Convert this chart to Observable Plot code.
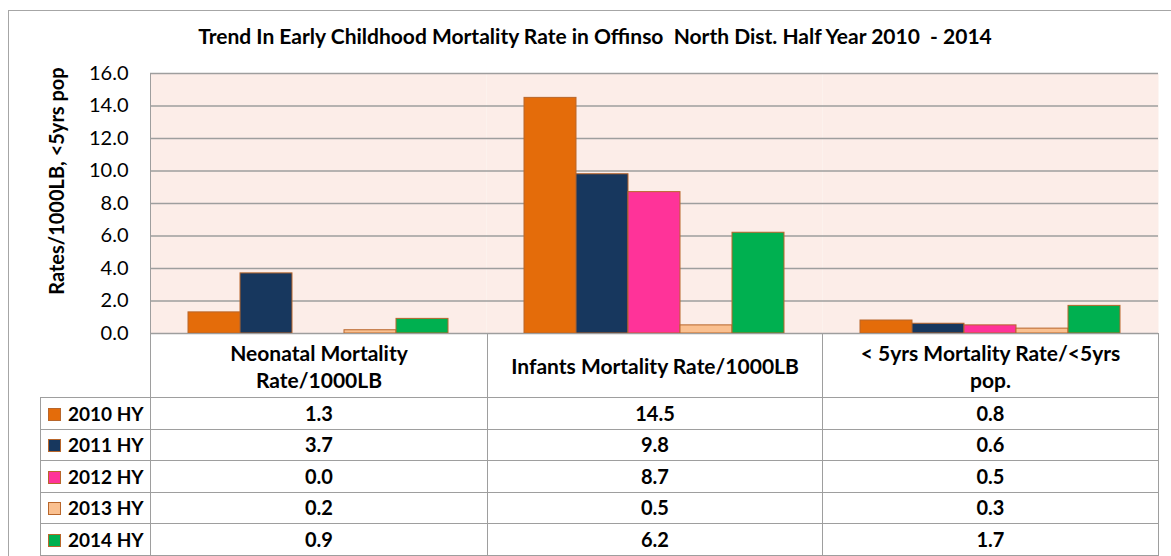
<!DOCTYPE html>
<html>
<head>
<meta charset="utf-8">
<script src="https://cdn.jsdelivr.net/npm/d3@7"></script>
<script src="https://cdn.jsdelivr.net/npm/@observablehq/plot@0.6"></script>
<style>
  html, body { margin: 0; padding: 0; background: #fff; }
  #wrap { position: relative; width: 1171px; height: 556px; overflow: hidden; background: #fff; font-family: Lato, "Open Sans", sans-serif; color: #000; }
  #frame { position: absolute; left: 8px; top: 10px; width: 1200px; height: 700px; border: 1.5px solid #a6a6a6; box-sizing: border-box; }
  #title { position: absolute; left: 0; width: 1190px; top: 24px; text-align: center; font-weight: 700; font-size: 21px; white-space: pre; line-height: 24px; }
  #ylabel { position: absolute; left: 56px; top: 181px; transform: translate(-50%, -50%) rotate(-90deg); font-weight: 700; font-size: 20px; white-space: nowrap; }
  #chart { position: absolute; left: 0; top: 60px; }
  #vline { position: absolute; left: 150px; top: 73px; height: 500px; border-left: 1.5px solid #9e9e9e; }
  #tbl { position: absolute; left: 40px; top: 333px; border-collapse: collapse; font-weight: 700; font-size: 20px; table-layout: fixed; }
  #tbl td { border: 1.5px solid #9e9e9e; text-align: center; padding: 0; line-height: 27px; }
  #tbl td.blank { border-top: none; border-left: none; }
  #tbl tr.head td { height: 63px; font-size: 21px; }
  #tbl tr.row td { height: 30.5px; }
  #tbl td.lab { text-align: left; padding-left: 7px; white-space: nowrap; font-size: 19px; }
  .sw { display: inline-block; width: 11px; height: 11px; border: 1px solid #b8662b; margin-right: 7px; vertical-align: 0px; }
</style>
</head>
<body>
<div id="wrap">
  <div id="frame"></div>
  <div id="title"></div>
  <div id="ylabel"></div>
  <div id="chart"></div>
  <div id="vline"></div>
  <table id="tbl"></table>
</div>
<script>
// ---- data ----
const title = "Trend In Early Childhood Mortality Rate in Offinso  North Dist. Half Year 2010  - 2014";
const yLabel = "Rates/1000LB, <5yrs pop";
const categories = ["Neonatal Mortality Rate/1000LB", "Infants Mortality Rate/1000LB", "< 5yrs Mortality Rate/<5yrs pop."];
const categoryLines = [["Neonatal Mortality", "Rate/1000LB"], ["Infants Mortality Rate/1000LB"], ["< 5yrs Mortality Rate/<5yrs", "pop."]];
const series = ["2010 HY", "2011 HY", "2012 HY", "2013 HY", "2014 HY"];
const values2010 = [1.3, 14.5, 0.8];
const values2011 = [3.7, 9.8, 0.6];
const values2012 = [0.0, 8.7, 0.5];
const values2013 = [0.2, 0.5, 0.3];
const values2014 = [0.9, 6.2, 1.7];
const seriesColors = ["#E46C0A", "#17375E", "#FF3399", "#FAC090", "#00B050"];
const yTicks = [0, 2, 4, 6, 8, 10, 12, 14, 16];

// ---- build ----
const allValues = [values2010, values2011, values2012, values2013, values2014];
const data = series.flatMap((s, i) => categories.map((c, j) => ({series: s, category: c, value: allValues[i][j]})));

document.getElementById("title").textContent = title;
document.getElementById("ylabel").textContent = yLabel;

const chart = Plot.plot({
  width: 1171,
  height: 274,
  marginLeft: 150,
  marginRight: 13,
  marginTop: 13,
  marginBottom: 1,
  style: {fontFamily: "Lato, 'Open Sans', sans-serif", fontSize: "20px", color: "#000", background: "transparent", overflow: "visible"},
  fx: {domain: categories, padding: 0, axis: null},
  x: {domain: series, paddingInner: 0, paddingOuter: 0.7, axis: null},
  y: {domain: [0, 16], axis: null},
  color: {domain: series, range: seriesColors},
  marks: [
    Plot.frame({fill: "#FCEDE8", stroke: null}),
    Plot.gridY(yTicks, {stroke: "#9e9e9e", strokeOpacity: 1, strokeWidth: 1.5}),
    Plot.barY(data, {fx: "category", x: "series", y: "value", fill: "series", stroke: "#B8662B", strokeWidth: 1}),
    Plot.axisY(yTicks, {tickSize: 0, tickPadding: 22, tickFormat: d => d.toFixed(1), label: null, fontSize: 20})
  ]
});
document.getElementById("chart").appendChild(chart);

// ---- data table ----
const tbl = document.getElementById("tbl");
const colWidths = [110, 337, 335, 336];
const cg = document.createElement("colgroup");
colWidths.forEach(w => { const c = document.createElement("col"); c.style.width = w + "px"; cg.appendChild(c); });
tbl.appendChild(cg);
const head = document.createElement("tr");
head.className = "head";
const blank = document.createElement("td");
blank.className = "blank";
head.appendChild(blank);
categoryLines.forEach(lines => {
  const td = document.createElement("td");
  lines.forEach((l, k) => { if (k) td.appendChild(document.createElement("br")); td.appendChild(document.createTextNode(l)); });
  head.appendChild(td);
});
tbl.appendChild(head);
series.forEach((s, i) => {
  const tr = document.createElement("tr");
  tr.className = "row";
  const lab = document.createElement("td");
  lab.className = "lab";
  const sw = document.createElement("span");
  sw.className = "sw";
  sw.style.background = seriesColors[i];
  lab.appendChild(sw);
  lab.appendChild(document.createTextNode(s));
  tr.appendChild(lab);
  categories.forEach((c, j) => {
    const td = document.createElement("td");
    td.textContent = allValues[i][j].toFixed(1);
    tr.appendChild(td);
  });
  tbl.appendChild(tr);
});
</script>
</body>
</html>
